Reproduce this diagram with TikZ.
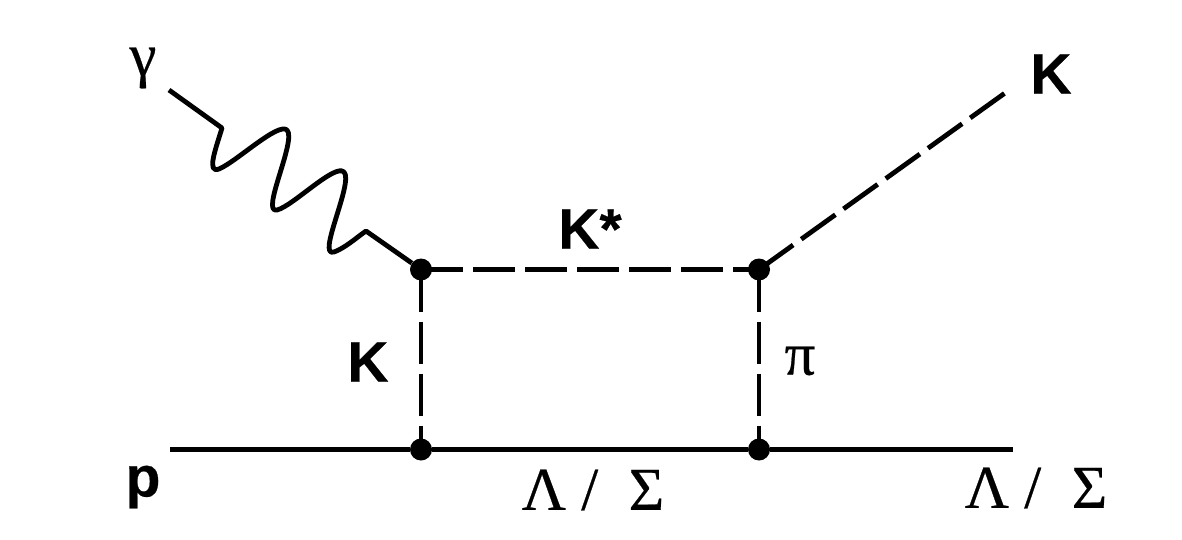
\documentclass[tikz,border=0pt]{standalone}
\usepackage{fontspec}
\setmainfont{Liberation Serif}[FakeBold=0.4]
\newfontfamily\boldsans{Liberation Sans Bold}[FakeBold=0.4]
\usetikzlibrary{positioning}
\begin{document}
\begin{tikzpicture}[x=1pt, y=-1pt]
	% Define custom styles to make the code cleaner and more reusable.
	\tikzset{
		vertex/.style={circle, fill=black, inner sep=0pt, minimum size=22pt},
		fermion/.style={line width=4.8pt},
		meson/.style={line width=4.8pt, dash pattern=on 42pt off 10pt},
		boldlabel/.style={inner sep=0pt, font=\fontsize{57}{60}\selectfont\boldsans},
		greeklabel/.style={inner sep=0pt, font=\fontsize{61}{64}\selectfont}
	}
	\useasboundingbox (0,0) rectangle (1182,540);
	
	% === NODES ===
	\node[vertex] (photonvertex) at (421,269.5) {};
	\node[vertex] (pionvertex) at (759,269.5) {};
	\node[vertex] (kaonvertex) at (421,449.5) {};
	\node[vertex] (baryonvertex) at (759,449.5) {};
	\coordinate (photonin) at (169,90);
	\coordinate (kaonout) at (1005,93);
	\coordinate (protonin) at (170,449.5);
	\coordinate (baryonout) at (1013,449.5);
	
	% === LABELS ===
	\node[greeklabel] (gammalabel) at (143,68) {γ};
	\node[boldlabel] (kaonoutlabel) at (1051,74) {K};
	\node[boldlabel] (kstarlabel) at (590,229) {K*};
	\node[boldlabel] (kaonlabel) at (368,362) {K};
	\node[greeklabel] (pionlabel) at (800,361) {π};
	\node[boldlabel] (protonlabel) at (143,487) {p};
	\node[greeklabel] (baryonlabel) at (593,490) {Λ / \ Σ};
	\node[greeklabel] (baryonoutlabel) at (1036,488) {Λ / \ Σ};
	
	% === CONNECTIONS ===
	\draw[fermion] (protonin) -- (kaonvertex) -- (baryonvertex) -- (baryonout);
	\draw[meson] (photonvertex.center) -- (pionvertex.center);
	\draw[meson] (photonvertex.center) -- (kaonvertex.center);
	\draw[meson] (pionvertex.center) -- (baryonvertex.center);
	\draw[meson] (pionvertex.center) -- (kaonout);
	\draw[fermion, line join=round] (photonin) -- (222,128)
		.. controls (216,148) and (206,174) .. (219,169)
		.. controls (236,162) and (278,122) .. (287,130)
		.. controls (297,140) and (260,214) .. (277,210)
		.. controls (293,206) and (335,163) .. (344,172)
		.. controls (354,182) and (316,258) .. (334,252)
		.. controls (345,248) and (356,238) .. (366,231)
		-- (photonvertex);
\end{tikzpicture}
\end{document}
